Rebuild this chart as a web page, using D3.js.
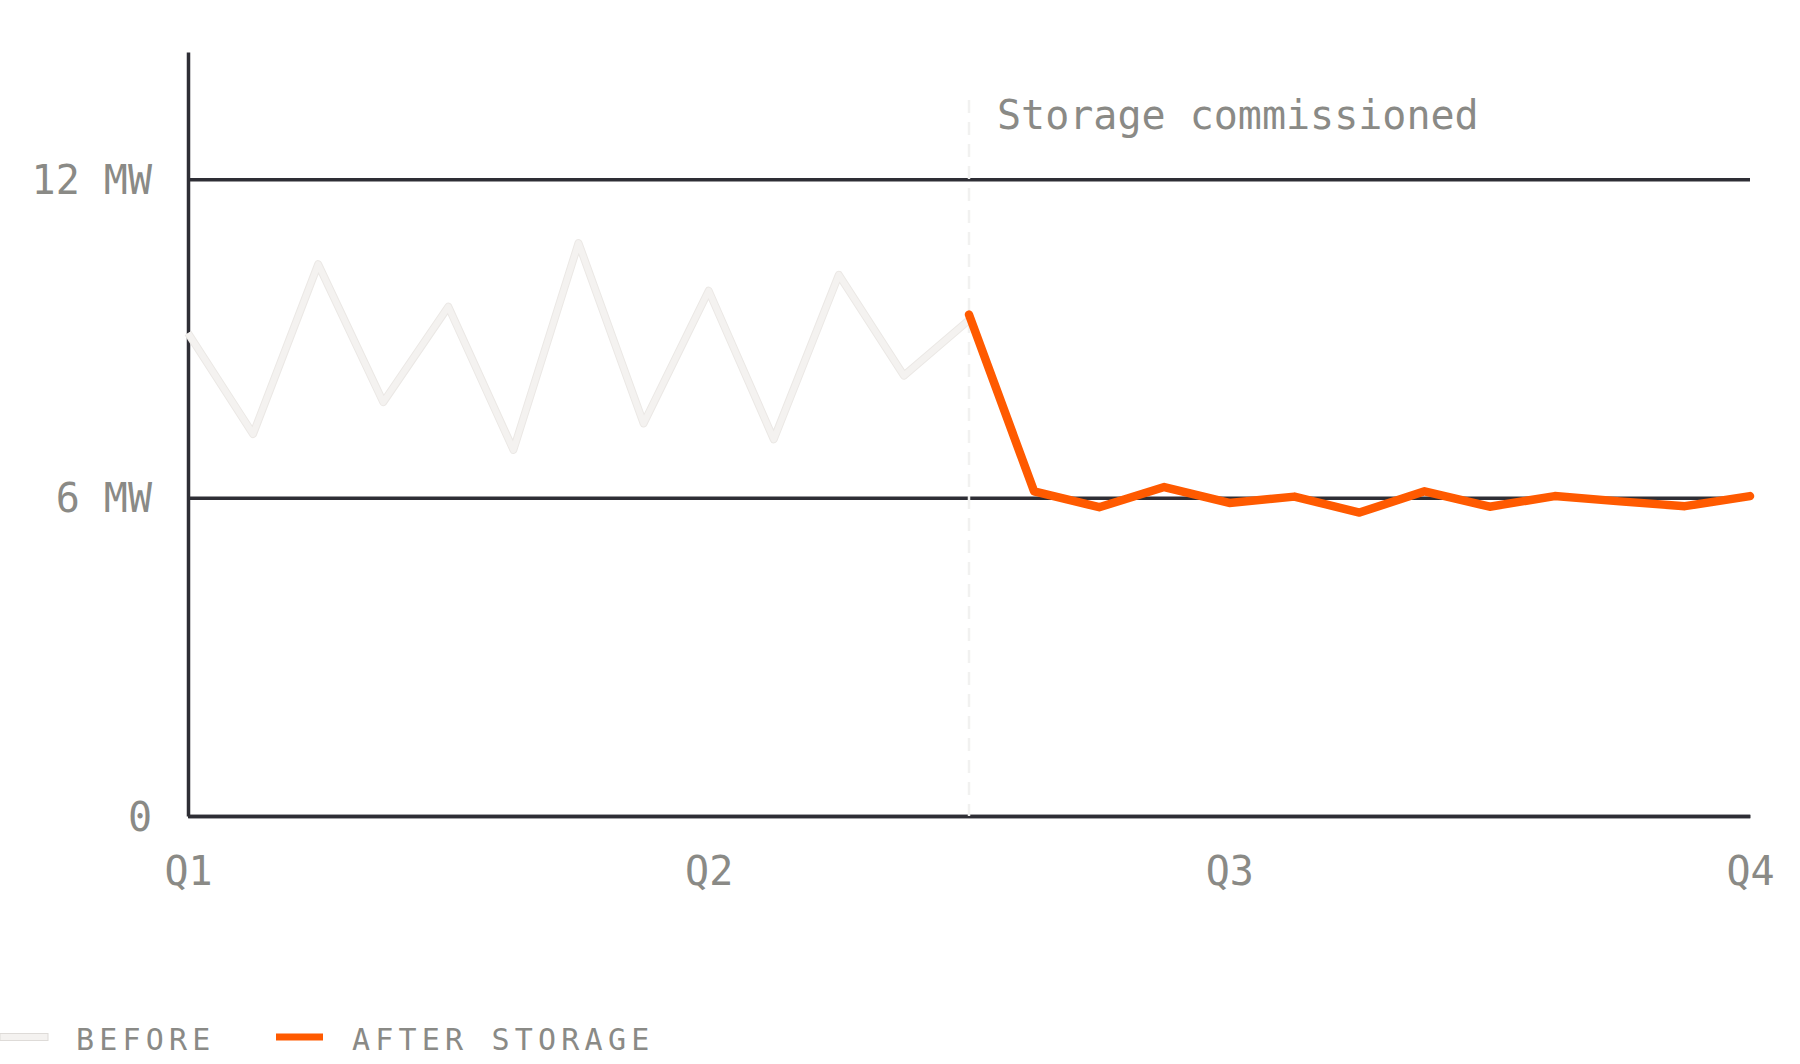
<!DOCTYPE html>
<html>
<head>
<meta charset="utf-8">
<script src="https://cdn.jsdelivr.net/npm/d3@7"></script>
<style>
  body { margin: 0; background: #fff; }
  text { font-family: 'DejaVu Sans Mono', 'Liberation Mono', monospace; fill: #8a8a86; }
</style>
</head>
<body>
<div id="chart"></div>
<script>
// data
var quarters = ['Q1', 'Q2', 'Q3', 'Q4'];
var quarterIdx = [0, 8, 16, 24];
var beforeMW = [9.1, 7.2, 10.4, 7.8, 9.6, 6.9, 10.8, 7.4, 9.9, 7.1, 10.2, 8.3, 9.35];
var afterMW = [9.45, 6.12, 5.82, 6.2, 5.9, 6.02, 5.72, 6.12, 5.83, 6.03, 5.93, 5.84, 6.03];
var yTicks = [0, 6, 12];
var yTickLabels = ['0', '6 MW', '12 MW'];
var seriesNames = ['BEFORE', 'AFTER STORAGE'];
var markerLabel = 'Storage commissioned';

var width = 1800;
var height = 1064;
var plotLeft = 188, plotRight = 1750, plotTop = 52, plotBottom = 816;
var splitIdx = beforeMW.length - 1;

var svg = d3
    .select('#chart')
    .append('svg')
    .attr('width', width)
    .attr('height', height)
    .style('background', 'white');

var xScale = d3.scaleLinear().domain([0, 24]).range([plotLeft, plotRight]);
var yScale = d3.scaleLinear().domain([0, 14.4]).range([plotBottom, plotTop]);

// y axis + gridlines
var yAxis = d3.axisLeft(yScale)
    .tickValues(yTicks)
    .tickFormat((d, i) => yTickLabels[i])
    .tickSize(-(plotRight - plotLeft))
    .tickSizeOuter(0)
    .tickPadding(36);

var gy = svg.append('g')
    .attr('transform', `translate(${plotLeft},0)`)
    .call(yAxis);
gy.select('.domain').attr('stroke', '#2e2e35').attr('stroke-width', 3.5);
gy.selectAll('.tick line').attr('stroke', '#2e2e35').attr('stroke-width', 3.5);
gy.selectAll('.tick text')
    .attr('font-size', 40)
    .attr('fill', '#8a8a86')
    .attr('dy', '0.35em');

// x axis
var xAxis = d3.axisBottom(xScale)
    .tickValues(quarterIdx)
    .tickFormat((d, i) => quarters[i])
    .tickSize(0)
    .tickSizeOuter(0);

var gx = svg.append('g')
    .attr('transform', `translate(0,${plotBottom})`)
    .call(xAxis);
gx.select('.domain').attr('stroke', '#2e2e35').attr('stroke-width', 3.5);
gx.selectAll('.tick text')
    .attr('font-size', 40)
    .attr('fill', '#8a8a86')
    .attr('y', 69)
    .attr('dy', 0);

// storage commissioned marker
svg.append('line')
    .attr('x1', xScale(splitIdx))
    .attr('x2', xScale(splitIdx))
    .attr('y1', 100)
    .attr('y2', plotBottom)
    .attr('stroke', '#f1f1f0')
    .attr('stroke-width', 2.5)
    .attr('stroke-dasharray', '13,9');

svg.append('text')
    .attr('x', xScale(splitIdx) + 28)
    .attr('y', 129)
    .attr('font-size', 40)
    .text(markerLabel);

var line = d3.line()
    .x(d => xScale(d.i))
    .y(d => yScale(d.v));

var beforeData = beforeMW.map((v, i) => ({ i: i, v: v }));
var afterData = afterMW.map((v, i) => ({ i: i + splitIdx, v: v }));

svg.append('path')
    .datum(beforeData)
    .attr('d', line)
    .attr('fill', 'none')
    .attr('stroke', '#ebe8e5')
    .attr('stroke-width', 8)
    .attr('stroke-linejoin', 'round');
svg.append('path')
    .datum(beforeData)
    .attr('d', line)
    .attr('fill', 'none')
    .attr('stroke', '#f4f2f0')
    .attr('stroke-width', 6)
    .attr('stroke-linejoin', 'round');

svg.append('path')
    .datum(afterData)
    .attr('d', line)
    .attr('fill', 'none')
    .attr('stroke', '#ff5a00')
    .attr('stroke-width', 8.5)
    .attr('stroke-linejoin', 'round')
    .attr('stroke-linecap', 'round');

// legend
var legend = svg.append('g').attr('transform', 'translate(0,1037)');

legend.append('rect')
    .attr('x', 0).attr('y', -3.5)
    .attr('width', 48).attr('height', 7)
    .attr('fill', '#f4f2f0')
    .attr('stroke', '#dedbd8')
    .attr('stroke-width', 1);
legend.append('text')
    .attr('x', 76).attr('y', 13)
    .attr('font-size', 30)
    .attr('letter-spacing', 5.2)
    .text(seriesNames[0]);

legend.append('rect')
    .attr('x', 276).attr('y', -3.5)
    .attr('width', 47).attr('height', 7)
    .attr('fill', '#ff5a00');
legend.append('text')
    .attr('x', 352).attr('y', 13)
    .attr('font-size', 30)
    .attr('letter-spacing', 5.2)
    .text(seriesNames[1]);
</script>
</body>
</html>
